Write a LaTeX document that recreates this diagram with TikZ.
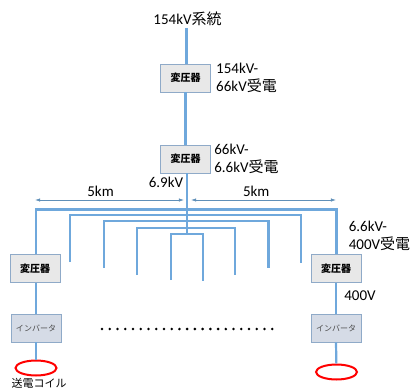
\documentclass[tikz,border=0pt]{standalone}
\usepackage{fontspec}
\setmainfont{Carlito}
\newfontfamily\cjk{Noto Sans CJK JP}
\usetikzlibrary{shapes.geometric, arrows.meta}
\definecolor{wirecol}{HTML}{6FA8DC}
\definecolor{edgeblue}{HTML}{8FAAC8}
\definecolor{dimblue}{HTML}{5F8FB8}
\definecolor{invfill}{HTML}{D5DBE6}

\begin{document}
\begin{tikzpicture}[
  x=1pt, y=-1pt,
  font=\fontsize{15}{18}\selectfont,
  xfmr/.style={draw=edgeblue, line width=0.9pt, fill=black!9, inner sep=0pt,
               minimum width=50pt, minimum height=28pt,
               font=\fontsize{10}{11}\selectfont\cjk\bfseries},
  inv/.style={draw=edgeblue, line width=0.9pt, fill=invfill, inner sep=0pt,
              minimum width=50pt, minimum height=28pt,
              font=\fontsize{8}{9}\selectfont\cjk, text=black!70},
  lbl/.style={align=left, inner sep=0pt},
  feed/.style={wirecol, line width=2.2pt},
  coil/.style={draw=red, line width=2pt, ellipse, inner sep=0pt,
               minimum width=41pt, minimum height=15pt},
  dim/.style={{Latex[length=1.8mm,width=1.2mm]}-{Latex[length=1.8mm,width=1.2mm]},
              dimblue, line width=0.7pt}
]
\useasboundingbox (0,0) rectangle (411,390);

\node[lbl] (grid) at (187.5,19) {154kV{\cjk 系統}};
\node[xfmr] (t1) at (185.5,78) {変圧器};
\node[xfmr] (t2) at (185.5,159) {変圧器};
\node[xfmr] (t3) at (35,268.5) {変圧器};
\node[xfmr] (t4) at (336,268.5) {変圧器};
\node[inv] (i1) at (36,328) {インバータ};
\node[inv] (i2) at (336,328) {インバータ};
\node[coil] (c1) at (36,368) {};
\node[coil] (c2) at (336.5,372) {};

\coordinate (top) at (186.5,28);
\coordinate (hub) at (187,234);
\coordinate (dl) at (35,200);
\coordinate (dm1) at (184,200);
\coordinate (dm2) at (191,200);
\coordinate (dr) at (336,200);
\coordinate (dots1) at (102,329);
\coordinate (dots2) at (274,329);

\draw[feed] (top) -- (t1.north -| top);
\draw[feed] (t1) -- (t2);
\draw[feed] (t2.south -| hub) -- (hub);
\draw[feed] (t3.north -| c1) |- (187,209.5) -| (t4.north -| c2);
\draw[feed] (i1.south) -- (c1);
\draw[feed] (i2.south) -- (c2);
\draw[feed] (t3.south -| i1) -- (i1);
\draw[feed] (t4) -- (i2);

% feeders, outer to inner
\foreach \xa/\xb/\ybus/\yl/\yr in {70/301/215/262/263, 104/268.5/221/268/268,
    137/235/228/275/275, 171/203/234/280/281}
  \draw[feed] (\xa,\yl) -- (\xa,\ybus) -- (\xb,\ybus) -- (\xb,\yr);

\draw[dim] (dl) -- node[pos=0.44, above=3pt, inner sep=0pt, text=black] {5km} (dm1);
\draw[dim] (dm2) -- node[pos=0.45, above=3pt, inner sep=0pt, text=black] {5km} (dr);

\draw[line width=2.8pt, line cap=round, dash pattern=on 0pt off 7.74pt] (dots1) -- (dots2);

\node[lbl] (l1) at (246.5,78) {154kV-\\66kV{\cjk 受電}};
\node[lbl] (l2) at (246.5,159) {66kV-\\6.6kV{\cjk 受電}};
\node[lbl] (l3) at (166,182) {6.9kV};
\node[lbl] (l4) at (379.5,236) {6.6kV-\\400V{\cjk 受電}};
\node[lbl] (l5) at (360,296) {400V};
\node[lbl, font=\fontsize{11}{13}\selectfont\cjk] (coilname) at (39,383) {送電コイル};
\end{tikzpicture}
\end{document}
